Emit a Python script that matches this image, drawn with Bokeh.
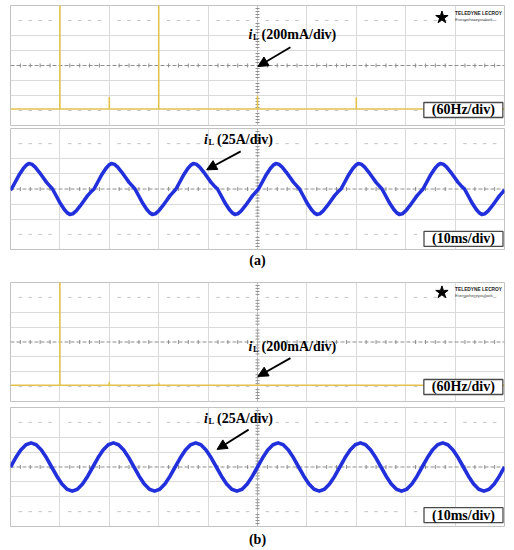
import math
from bokeh.plotting import figure
from bokeh.layouts import column
from bokeh.models import Range1d, Grid, FixedTicker, Span, Label, Arrow, NormalHead
from bokeh.embed import file_html
from bokeh.resources import INLINE

# ---------------- data ----------------
# scope scales
freq_div = 60      # Hz/div  (FFT panes)
ma_div = 200       # mA/div  (FFT panes)
ms_div = 10        # ms/div  (time panes)
amp_div = 25       # A/div   (time panes)

# (a) FFT of inductor current: spectral lines (Hz) and their height above the trace floor (mA)
fft_a_freq = [60, 120, 180, 300, 420]
fft_a_mag = [1500, 160, 1500, 180, 155]   # 60 Hz and 180 Hz lines run off the top of the screen
fft_a_floor = -580
# (b) FFT
fft_b_freq = [60, 120, 180]
fft_b_mag = [1500, 50, 35]
fft_b_floor = -583

# (a) time-domain inductor current (ms, A)
wave_a_t = [0.0,
    0.2, 1.0, 1.8, 2.6, 3.2, 3.7, 4.3, 5.0, 5.8, 6.6, 7.3, 7.9,
    8.5, 9.3, 10.1, 10.9, 11.5, 12.0, 12.6, 13.3, 14.1, 14.9, 15.6, 16.2,
    16.9, 17.7, 18.5, 19.3, 19.9, 20.4, 21.0, 21.7, 22.5, 23.3, 24.0, 24.6,
    25.2, 26.0, 26.8, 27.6, 28.2, 28.7, 29.3, 30.0, 30.8, 31.6, 32.3, 32.9,
    33.5, 34.3, 35.1, 35.9, 36.5, 37.0, 37.6, 38.3, 39.1, 39.9, 40.6, 41.2,
    41.9, 42.7, 43.5, 44.3, 44.9, 45.4, 46.0, 46.7, 47.5, 48.3, 49.0, 49.6,
    50.2, 51.0, 51.8, 52.6, 53.2, 53.7, 54.3, 55.0, 55.8, 56.6, 57.3, 57.9,
    58.5, 59.3, 60.1, 60.9, 61.5, 62.0, 62.6, 63.3, 64.1, 64.9, 65.6, 66.2,
    66.9, 67.7, 68.5, 69.3, 69.9, 70.4, 71.0, 71.7, 72.5, 73.3, 74.0, 74.6,
    75.2, 76.0, 76.8, 77.6, 78.2, 78.7, 79.3, 80.0, 80.8, 81.6, 82.3, 82.9,
    83.5, 84.3, 85.1, 85.9, 86.5, 87.0, 87.6, 88.3, 89.1, 89.9, 90.6, 91.2,
    91.9, 92.7, 93.5, 94.3, 94.9, 95.4, 96.0, 96.7, 97.5, 98.3, 99.0, 99.6,
    100.0]
wave_a_i = [-1.5,
    0, 12, 24, 34, 39.5, 42, 41, 36, 28, 19, 11, 5.5,
    0, -12, -24, -34, -39.5, -42, -41, -36, -28, -19, -11, -5.5,
    0, 12, 24, 34, 39.5, 42, 41, 36, 28, 19, 11, 5.5,
    0, -12, -24, -34, -39.5, -42, -41, -36, -28, -19, -11, -5.5,
    0, 12, 24, 34, 39.5, 42, 41, 36, 28, 19, 11, 5.5,
    0, -12, -24, -34, -39.5, -42, -41, -36, -28, -19, -11, -5.5,
    0, 12, 24, 34, 39.5, 42, 41, 36, 28, 19, 11, 5.5,
    0, -12, -24, -34, -39.5, -42, -41, -36, -28, -19, -11, -5.5,
    0, 12, 24, 34, 39.5, 42, 41, 36, 28, 19, 11, 5.5,
    0, -12, -24, -34, -39.5, -42, -41, -36, -28, -19, -11, -5.5,
    0, 12, 24, 34, 39.5, 42, 41, 36, 28, 19, 11, 5.5,
    0, -12, -24, -34, -39.5, -42, -41, -36, -28, -19, -11, -5.5,
    -1.5]

# (b) time-domain inductor current (ms, A)
wave_b_t = [0.0, 1.04, 2.08, 3.13, 4.17, 5.21, 6.25, 7.29, 8.33, 9.38, 10.42, 11.46,
    12.5, 13.54, 14.58, 15.63, 16.67, 17.71, 18.75, 19.79, 20.83, 21.88, 22.92, 23.96,
    25.0, 26.04, 27.08, 28.13, 29.17, 30.21, 31.25, 32.29, 33.33, 34.38, 35.42, 36.46,
    37.5, 38.54, 39.58, 40.63, 41.67, 42.71, 43.75, 44.79, 45.83, 46.88, 47.92, 48.96,
    50.0, 51.04, 52.08, 53.13, 54.17, 55.21, 56.25, 57.29, 58.33, 59.38, 60.42, 61.46,
    62.5, 63.54, 64.58, 65.63, 66.67, 67.71, 68.75, 69.79, 70.83, 71.88, 72.92, 73.96,
    75.0, 76.04, 77.08, 78.13, 79.17, 80.21, 81.25, 82.29, 83.33, 84.38, 85.42, 86.46,
    87.5, 88.54, 89.58, 90.63, 91.67, 92.71, 93.75, 94.79, 95.83, 96.88, 97.92, 98.96,
    100.0]
wave_b_i = [0, 15.5, 28.6, 37.4, 40.5, 37.4, 28.6, 15.5, 0, -15.5, -28.6, -37.4,
    -40.5, -37.4, -28.6, -15.5, 0, 15.5, 28.6, 37.4, 40.5, 37.4, 28.6, 15.5,
    0, -15.5, -28.6, -37.4, -40.5, -37.4, -28.6, -15.5, 0, 15.5, 28.6, 37.4,
    40.5, 37.4, 28.6, 15.5, 0, -15.5, -28.6, -37.4, -40.5, -37.4, -28.6, -15.5,
    0, 15.5, 28.6, 37.4, 40.5, 37.4, 28.6, 15.5, 0, -15.5, -28.6, -37.4,
    -40.5, -37.4, -28.6, -15.5, 0, 15.5, 28.6, 37.4, 40.5, 37.4, 28.6, 15.5,
    0, -15.5, -28.6, -37.4, -40.5, -37.4, -28.6, -15.5, 0, 15.5, 28.6, 37.4,
    40.5, 37.4, 28.6, 15.5, 0, -15.5, -28.6, -37.4, -40.5, -37.4, -28.6, -15.5,
    0]

# ---------------- style ----------------
SERIF = "Liberation Serif"
SANS = "Liberation Sans"
YELLOW = "#e2c24c"
BLUE = "#2230dc"
GRID = "#dadada"
CENTER = "#8e8e8e"
W = 514
LB, RB = 10, 10


def scope(xdiv, ydiv, top, frame_h, bottom):
    p = figure(width=W, height=top + frame_h + bottom,
               x_range=Range1d(0, 10 * xdiv), y_range=Range1d(-4 * ydiv, 4 * ydiv),
               output_backend="svg", toolbar_location=None,
               x_axis_location=None, y_axis_location=None, title_location=None,
               min_border_left=LB, min_border_right=RB,
               min_border_top=top, min_border_bottom=bottom,
               background_fill_color="white", border_fill_color="white",
               outline_line_color="#c2c2c2", outline_line_width=1)
    p.grid.visible = False
    p.add_layout(Grid(dimension=0, ticker=FixedTicker(ticks=[k * xdiv for k in range(1, 10)]),
                      grid_line_color=GRID, grid_line_width=1))
    p.add_layout(Grid(dimension=1, ticker=FixedTicker(ticks=[k * ydiv for k in (-2, -1, 1, 2)]),
                      grid_line_color=GRID, grid_line_width=1))
    p.add_layout(Span(location=5 * xdiv, dimension="height", line_color=CENTER,
                      line_dash="1 2", line_width=1, level="underlay"))
    p.add_layout(Span(location=0, dimension="width", line_color=CENTER,
                      line_dash="4 2", line_width=1, level="underlay"))
    # graticule minor ticks (every 1/5 division)
    mx = [k * xdiv / 5 for k in range(1, 50) if k % 5]
    my = [k * ydiv / 5 for k in range(-19, 20) if k % 5]
    p.scatter(x=mx, y=[0] * len(mx), marker="dash", angle=math.pi / 2, size=4,
              line_color=CENTER, line_width=1)
    p.scatter(x=[5 * xdiv] * len(my), y=my, marker="dash", size=4,
              line_color=CENTER, line_width=1)
    for lev in (-3, 3):
        p.scatter(x=mx, y=[lev * ydiv] * len(mx), marker="dash", size=3.5,
                  line_color="#c4c4c4", line_width=1)
    return p


def il_label(p, x, y, txt):
    p.add_layout(Label(x=x, y=y, x_offset=-13, text="i", text_font=SERIF,
                       text_font_style="bold italic", text_font_size="14px",
                       text_color="black", text_baseline="alphabetic"))
    p.add_layout(Label(x=x, y=y, x_offset=-8.5, y_offset=-2.5, text="L", text_font=SERIF,
                       text_font_style="bold", text_font_size="8.5px",
                       text_color="black", text_baseline="alphabetic"))
    p.add_layout(Label(x=x, y=y, text=txt, text_font=SERIF, text_font_style="bold",
                       text_font_size="14px", text_color="black", text_baseline="alphabetic"))


def boxed(p, x, y, txt):
    p.rect(x=[x], y=[y], width=79, height=15, width_units="screen", height_units="screen",
           fill_color="white", line_color="#4a4a4a", line_width=1.3)
    p.add_layout(Label(x=x, y=y, text=txt, text_font=SERIF, text_font_style="bold",
                       text_font_size="14px", text_color="black",
                       text_align="center", text_baseline="middle"))


def arrow(p, x0, y0, x1, y1):
    p.add_layout(Arrow(end=NormalHead(size=10, fill_color="black", line_color="black", line_width=1),
                       x_start=x0, y_start=y0, x_end=x1, y_end=y1,
                       line_color="black", line_width=1.8))


def logo(p, x, y_star, y_top, y_bot, x_txt):
    p.scatter(x=[x], y=[y_star], marker="star", size=13, fill_color="black", line_color="black")
    p.add_layout(Label(x=x_txt, y=y_top, text="TELEDYNE LECROY", text_font=SANS,
                       text_font_style="bold", text_font_size="4.8px", text_color="#222222",
                       text_baseline="middle"))
    p.add_layout(Label(x=x_txt, y=y_bot, text="Everywhereyoulook", text_font=SANS,
                       text_font_size="4.3px", text_color="#444444", text_baseline="middle"))


def fft(p, freqs, mags, floor):
    p.line(x=[0, 10 * freq_div], y=[floor, floor], line_color=YELLOW, line_width=1.5)
    p.segment(x0=freqs, y0=[floor] * len(freqs), x1=freqs, y1=[floor + m for m in mags],
              line_color=YELLOW, line_width=1.6)


def caption(txt, h, yc):
    c = figure(width=W, height=h, x_range=Range1d(0, 1), y_range=Range1d(0, h),
               output_backend="svg", toolbar_location=None,
               x_axis_location=None, y_axis_location=None, title_location=None,
               min_border_left=LB, min_border_right=RB, min_border_top=0, min_border_bottom=0,
               outline_line_color=None, background_fill_color="white", border_fill_color="white")
    c.grid.visible = False
    c.add_layout(Label(x=0.5, y=yc, text=txt, text_font=SERIF, text_font_style="bold",
                       text_font_size="14px", text_color="black",
                       text_align="center", text_baseline="middle"))
    return c


# ---------- (a) FFT ----------
a1 = scope(freq_div, ma_div, 5, 120, 1)
fft(a1, fft_a_freq, fft_a_mag, fft_a_floor)
il_label(a1, 305, 420, "(200mA/div)")
arrow(a1, 340, 244, 300.5, -13)
boxed(a1, 550, -593, "(60Hz/div)")
logo(a1, 524, 640, 687, 607, 540)

# ---------- (a) time ----------
a2 = scope(ms_div, amp_div, 2, 121, 1)
a2.line(x=wave_a_t, y=wave_a_i, line_color=BLUE, line_width=3.6, line_join="round")
il_label(a2, 41.8, 81.7, "(25A/div)")
arrow(a2, 46.6, 62.2, 39.7, 31.7)
boxed(a2, 91.7, -82.5, "(10ms/div)")

cap_a = caption("(a)", 31, 21)

# ---------- (b) FFT ----------
b1 = scope(freq_div, ma_div, 1, 119, 2)
fft(b1, fft_b_freq, fft_b_mag, fft_b_floor)
il_label(b1, 305, -66, "(200mA/div)")
arrow(b1, 340, -217, 300.5, -463)
boxed(b1, 550, -605, "(60Hz/div)")
logo(b1, 524, 667, 707, 627, 540)

# ---------- (b) time ----------
b2 = scope(ms_div, amp_div, 4, 119, 1)
b2.line(x=wave_b_t, y=wave_b_i, line_color=BLUE, line_width=3.6, line_join="round")
il_label(b2, 41.8, 81.5, "(25A/div)")
arrow(b2, 48.2, 62.8, 41.8, 29.5)
boxed(b2, 91.7, -81, "(10ms/div)")

cap_b = caption("(b)", 22, 10)

layout = column(a1, a2, cap_a, b1, b2, cap_b, spacing=0)
open("out.html", "w").write(file_html(layout, INLINE))
